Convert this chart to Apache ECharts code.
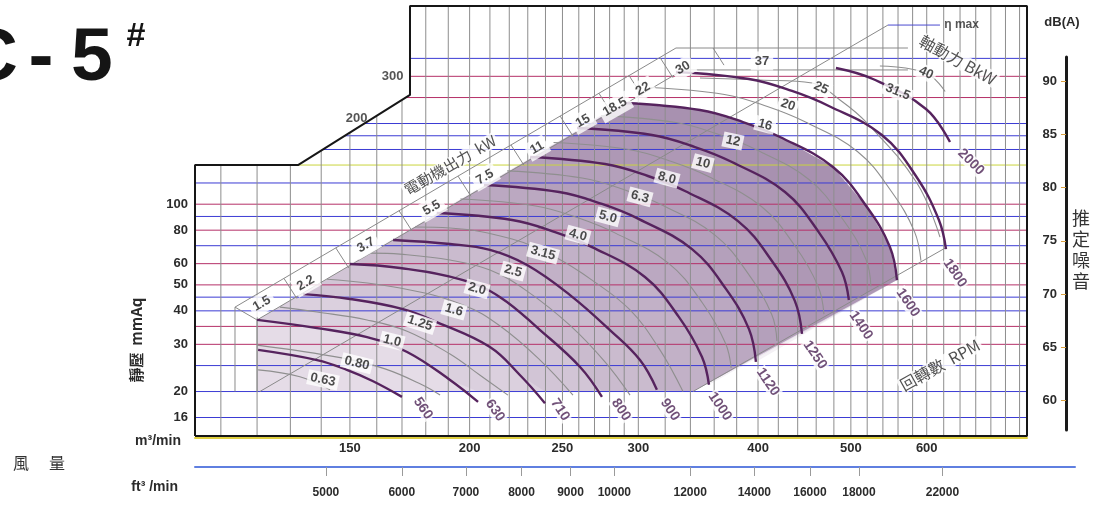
<!DOCTYPE html>
<html><head><meta charset="utf-8">
<script src="https://cdn.jsdelivr.net/npm/echarts@6/dist/echarts.min.js"></script>
<style>html,body{margin:0;padding:0;background:#fff}#c{width:1095px;height:506px}</style>
</head><body><div id="c"></div>
<script>
// ---------- axis ticks ----------
const flowTicks = [150, 200, 250, 300, 400, 500, 600];            // m3/min
const ftTicks = [5000, 6000, 7000, 8000, 9000, 10000, 12000, 14000, 16000, 18000, 22000]; // ft3/min
const pressTicks = [16, 20, 30, 40, 50, 60, 80, 100];             // mmAq
const dbTicks = [60, 65, 70, 75, 80, 85, 90];                     // dB(A)
const hGridP = [16, 20, 25, 30, 35, 40, 45, 50, 60, 70, 80, 90, 100, 120, 140, 160, 180, 200, 250, 300, 350];
const vGridQ = [110,120,130,140,150,160,170,180,190,200,210,220,230,240,250,260,270,280,290,300,320,340,360,380,400,420,440,460,480,500,520,540,560,580,600,625,650,675,700,725,750];

// ---------- RPM curves [flow m3/min, static pressure mmAq] ----------
const rpmNames = ['560','630','710','800','900','1000','1120','1250','1400','1600','1800','2000'];
const rpm560  = [[120.3,28.6],[138.6,26.2],[148.9,24.1],[158.4,21.9],[170.0,19.1]];
const rpm630  = [[120,37.0],[138.6,34.5],[156.3,31.9],[172.1,28.1],[190.8,22.1],[204.1,18.3]];
const rpm710  = [[134.0,46.2],[150,44.3],[170.4,40.6],[184.8,36.3],[210,29.3],[225.8,23.0],[239.7,18.1]];
const rpm800  = [[150,59.8],[169.2,57.8],[196.9,52.1],[215.2,45.0],[236.9,33.9],[260.8,24.7],[274.9,19.1]];
const rpm900  = [[166.4,73.5],[190.8,71.0],[210,67.5],[229.6,59.3],[254.6,45.8],[280.2,33.9],[301.2,26.2],[313.7,20.3]];
const rpm1000 = [[184.8,92.7],[221.5,87.3],[245.6,78.7],[268.4,69.2],[304.8,53.5],[330.8,37.9],[349.6,26.9],[355.5,21.2]];
const rpm1120 = [[207.0,117.9],[248.0,111.0],[274.9,100.2],[300.5,88.0],[341.3,68.0],[370.3,48.3],[391.4,34.2],[398.0,25.8]];
const rpm1250 = [[231.3,150.0],[276.9,141.2],[307.0,127.4],[335.6,112.0],[381.2,86.5],[413.6,61.4],[437.1,43.5],[444.6,32.8]];
const rpm1400 = [[258.9,192.4],[310.0,181.2],[343.8,163.4],[375.7,143.7],[426.8,111.0],[462.8,78.7],[489.4,55.8],[497.6,43.9]];
const rpm1600 = [[290.5,238.6],[347.9,224.6],[385.8,202.6],[421.7,178.1],[478.9,137.6],[519.7,97.6],[549.2,69.2],[558.6,52.1]];
const rpm1800 = [[328.4,311.5],[391.4,293.1],[434.0,264.5],[474.2,232.5],[538.7,181.2],[584.6,127.4],[617.8,87.3],[628.4,68.0]];
const rpm2000 = [[482.4,322.2],[527.2,293.1],[598.9,226.6],[634.5,170.6]];
const rpmCurves = [rpm560, rpm630, rpm710, rpm800, rpm900, rpm1000, rpm1120, rpm1250, rpm1400, rpm1600, rpm1800, rpm2000];

// ---------- thin grey curves (shaft power family) ----------
const grey063  = [[120.3,24.1],[133,22.7],[143,20.3]];
const grey080  = [[120,29.8],[147.1,26.7],[163.2,24.3],[178.4,21.2],[186.3,19.4]];
const grey125  = [[126.8,41.3],[138.6,39.6],[156.3,37.0],[172.1,33.6],[190.8,27.6],[205.1,23.0],[219.3,19.4]];
const grey160  = [[142.0,52.5],[169.2,48.7],[196.9,42.1],[215.2,35.1],[236.9,26.2],[256.4,19.4]];
const grey250  = [[157.7,65.7],[169.2,65.1],[190.8,61.9],[210.0,56.8],[229.6,47.4],[254.6,35.3],[276.9,25.8],[294.1,19.4]];
const grey315  = [[175.4,82.2],[190.8,81.5],[221.5,74.1],[245.6,63.5],[268.4,52.1],[294.1,40.3],[316.0,28.6],[334.0,20.0]];
const grey500  = [[195.6,104.6],[234.4,98.5],[259.9,88.8],[283.9,78.0],[322.5,60.3],[350.0,42.8],[369.9,30.3],[375.0,24.5]];
const grey630  = [[218.9,133.1],[262.1,125.2],[290.5,113.0],[317.5,99.3],[360.7,76.7],[391.4,54.5],[413.6,38.6],[418.6,30.9]];
const grey10   = [[244.7,169.9],[293.1,160.0],[324.9,144.3],[355.1,126.9],[403.3,98.0],[437.6,69.5],[462.2,49.3],[468.7,38.9]];
const grey12   = [[274.3,214.1],[328.4,201.7],[364.1,182.0],[398.0,160.0],[452.1,123.6],[490.6,87.7],[518.5,62.2],[524.7,49.3]];
const grey20   = [[308.1,272.6],[369.0,256.7],[409.1,231.5],[447.2,203.5],[507.9,157.3],[551.2,111.5],[582.6,79.0],[591.7,61.5]];
const grey25   = [[347.9,295.7],[401.9,290.7],[455.4,283.3],[487.1,244.8],[519.7,200.9],[586.0,119.9],[619.4,75.4]];
const grey40   = [[536.1,327.8],[598.9,308.8],[627.1,263.4]];
const greyCurves = [grey063, grey080, grey125, grey160, grey250, grey315, grey500, grey630, grey10, grey12, grey20, grey25, grey40];

// ---------- label texts ----------
const bkwLabels = ['0.63','0.80','1.0','1.25','1.6','2.0','2.5','3.15','4.0','5.0','6.3','8.0','10','12','16','20','25','31.5','40'];
const motorKW = ['1.5','2.2','3.7','5.5','7.5','11','15','18.5','22','30','37'];

// ---------- annotation anchors (data units) ----------
const bkwLabelAt = [[140.6,22.1],[152.5,25.5],[166.0,30.9],[177.5,36.0],[192.6,40.3],[203.6,48.3],[222.0,56.3],[238.6,65.7],[259.5,76.7],[278.9,89.6],[301.2,106.4],[321.4,125.2],[350.4,142.4],[376.6,172.1],[406.8,197.5],[429.9,234.5],[465.3,271.4],[559.8,262.2],[598.9,308.8]];
const bkwLabelAngle = [-12,-14,-14,-18,-16,-15,-15,-15,-15,-15,-15,-15,-15,-12,-15,-20,-25,-22,-25];
const rpmLabelAt = [[178.8,17.3],[212.6,17.0],[248.6,17.1],[287.8,17.1],[323.7,17.1],[365.0,17.6],[409.6,21.7],[458.7,27.4],[512.2,35.3],[573.5,42.9],[642.1,55.3],[667.2,143.7]];
const motorAt = [[121.4,42.6],[134.9,50.8],[155.9,70.4],[182.6,96.8],[207.5,126.3],[235.2,162.0],[262.7,204.3],[283.6,230.5],[303.4,269.1],[334.0,322.2],[403.8,342.4]];

// ---------- structure lines ----------
const Q_MIN = 103.37, Q_MAX = 763.5, P_MIN = 13.65, P_MAX = 548.9;
const frameOutline = [[Q_MIN,P_MIN],[Q_MIN,140],[132.4,140],[173.3,255.6],[173.3,P_MAX],[Q_MAX,P_MAX],[Q_MAX,P_MIN],[Q_MIN,P_MIN]];
const cutout = [[Q_MIN,140],[132.4,140],[173.3,255.6],[173.3,P_MAX],[Q_MIN,P_MAX]];
const bandUpper = [[113.8,41.3],[328.4,382.6],[573.5,382.6]];
const bandLower = [[120,37.0],[334.0,316.9],[573.5,316.9]];
const bandEnds = [[113.8,41.3],[120,37.0]];
const bandTickQ = [128.0,145.0,168.8,194.5,220.9,248.6,272.9,293.4,316.0,359.0];
const etaLine = [[120.8,20],[546.6,466]];
const etaLeader = [[546.6,466],[619.4,466]];
const lowerDiag = [[342.1,20],[629.9,69.2]];
const leftEdgeA = [[113.8,41.3],[113.8,20]];
const leftEdgeB = [[120,37.0],[120,20]];
const shadeBottomCorner = [342.1,20];

// ---------- styles ----------
const BLUE = '#3b3bd4', RED = '#b53068', YEL = '#c9d43c';
const hGridColor = [BLUE,BLUE,BLUE,RED,RED,BLUE,BLUE,RED,RED,BLUE,RED,BLUE,RED,BLUE,YEL,BLUE,BLUE,BLUE,RED,RED,BLUE];
const FONT = '"Liberation Sans", Arial, sans-serif';
const CJK = '"Noto Sans CJK TC", "Noto Sans CJK SC", sans-serif';
const DARK = '#56235e';

// ---------- helpers ----------
function shadePolys() {
  const polys = [];
  const base = [[120,20],[120,37.0]].concat(rpm1600, [shadeBottomCorner]);
  polys.push({pts: base, fill: '#e5dce7'});
  const layerCurves = [rpm630, rpm710, rpm800, rpm900, rpm1000, rpm1120, rpm1250, rpm1400];
  layerCurves.forEach(c => {
    const endQ = c[c.length - 1][0];
    let pts = rpm1600.slice();
    if (shadeBottomCorner[0] > endQ) pts.push(shadeBottomCorner);
    for (let i = c.length - 1; i >= 0; i--) pts.push([c[i][0], Math.max(c[i][1], 20)]);
    polys.push({pts: pts, fill: 'rgba(100,60,110,0.07)'});
  });
  return polys;
}
const polys = shadePolys();

function logInterp(line, q) {
  if (q <= line[0][0]) return line[0][1];
  for (let i = 0; i < line.length - 1; i++) {
    const a = line[i], b = line[i + 1];
    if (q >= a[0] && q <= b[0]) {
      const t = (Math.log(q) - Math.log(a[0])) / (Math.log(b[0]) - Math.log(a[0]));
      return Math.exp(Math.log(a[1]) + t * (Math.log(b[1]) - Math.log(a[1])));
    }
  }
  return line[line.length - 1][1];
}

const anchor = [Q_MIN * 1.01, P_MIN * 1.01];
function lineSeries(data, color, width, z, smooth) {
  return {type: 'line', data: data, xAxisIndex: 0, yAxisIndex: 0, symbol: 'none', smooth: smooth || false,
    clip: false, silent: true, z: z, lineStyle: {color: color, width: width}};
}
function labelSeries(points, texts, opts, z) {
  return {type: 'scatter', xAxisIndex: 0, yAxisIndex: 0, symbolSize: 1, silent: true, z: z,
    itemStyle: {color: 'rgba(0,0,0,0)'},
    data: points.map((p, i) => ({value: p, label: Object.assign({formatter: texts[i]}, opts.per ? opts.per(i) : {})})),
    label: Object.assign({show: true, position: 'inside'}, opts.base)};
}

const series = [];
// shading
series.push({type: 'custom', xAxisIndex: 0, yAxisIndex: 0, z: 1, silent: true, clip: true,
  data: polys.map(() => anchor),
  renderItem: (params, api) => {
    const p = polys[params.dataIndex];
    return {type: 'polygon', shape: {points: p.pts.map(v => api.coord(v))}, style: {fill: p.fill}};
  }});
// grid lines
const gridItems = hGridP.map((p, i) => ({h: true, v: p, c: hGridColor[i]})).concat(vGridQ.map(q => ({h: false, v: q, c: '#8d8d8d'})));
series.push({type: 'custom', xAxisIndex: 0, yAxisIndex: 0, z: 2, silent: true, clip: true,
  data: gridItems.map(() => anchor),
  renderItem: (params, api) => {
    const g = gridItems[params.dataIndex];
    const a = g.h ? api.coord([Q_MIN, g.v]) : api.coord([g.v, P_MIN]);
    const b = g.h ? api.coord([Q_MAX, g.v]) : api.coord([g.v, P_MAX]);
    return {type: 'line', shape: {x1: a[0], y1: a[1], x2: b[0], y2: b[1]}, style: {stroke: g.c, lineWidth: 1}};
  }});
// cutout cover
series.push({type: 'custom', xAxisIndex: 0, yAxisIndex: 0, z: 3, silent: true, clip: false,
  data: [anchor],
  renderItem: (params, api) => ({type: 'polygon', shape: {points: cutout.map(v => api.coord(v))}, style: {fill: '#fff'}})});
// aux lines
[etaLine, lowerDiag, bandUpper, bandLower, bandEnds, leftEdgeA, leftEdgeB].forEach(d => series.push(lineSeries(d, '#8a8a8a', 1, 4)));
series.push(lineSeries(etaLeader, '#4b4bd0', 1, 4));
// band separators
series.push({type: 'custom', xAxisIndex: 0, yAxisIndex: 0, z: 4, silent: true, clip: false,
  data: bandTickQ.map(() => anchor),
  renderItem: (params, api) => {
    const q = bandTickQ[params.dataIndex];
    const pu = api.coord([q, logInterp(bandUpper, q)]);
    const pl = api.coord([q, logInterp(bandLower, q)]);
    const dy = pl[1] - pu[1];
    return {type: 'line', shape: {x1: pu[0], y1: pu[1], x2: pu[0] + dy * 0.5, y2: pu[1] + dy * 0.78}, style: {stroke: '#8a8a8a', lineWidth: 1}};
  }});
// thin grey curves
greyCurves.forEach(c => series.push(lineSeries(c, '#8f8f8f', 1.1, 5, 0.4)));
// rpm curves
rpmCurves.forEach(c => series.push(lineSeries(c, DARK, 2.4, 6, 0.4)));
// frame
series.push(lineSeries(frameOutline, '#161616', 2, 8));

// labels
series.push(labelSeries(bkwLabelAt, bkwLabels, {
  base: {fontFamily: FONT, fontWeight: 'bold', fontSize: 13, color: '#1e1e1e', backgroundColor: '#fff', padding: [1, 3]},
  per: i => ({rotate: bkwLabelAngle[i]})}, 10));
series.push(labelSeries(rpmLabelAt, rpmNames, {
  base: {fontFamily: FONT, fontWeight: 'bold', fontSize: 14, color: '#4e2656', backgroundColor: '#fff', padding: [0, 1], rotate: -56},
  per: i => (i === 11 ? {rotate: -45} : {})}, 10));
series.push(labelSeries(motorAt, motorKW, {
  base: {fontFamily: FONT, fontWeight: 'bold', fontSize: 13, color: '#1e1e1e', backgroundColor: '#fff', padding: [3, 4], rotate: 30},
  per: i => (i === 10 ? {rotate: 0} : {})}, 10));
// titles inside plot
series.push(labelSeries(
  [[190.8,140.0],[646.7,345.3],[619.4,25.1]],
  ['電動機出力  kW', '軸動力 BkW', '回轉數  RPM'],
  {base: {fontFamily: CJK, fontSize: 15, color: '#262626', backgroundColor: '#fff', padding: [0, 2]},
   per: i => ({rotate: [30, -29, 29][i], fontSize: [15, 16, 16][i]})}, 11));
series.push(labelSeries([[622,466]], ['η max'], {base: {position: 'right', distance: 2, fontFamily: FONT, fontSize: 12, fontWeight: 'bold', color: '#2a2a2a'}}, 11));
series.push(labelSeries([[171.2,300],[157,200]], ['300','200'], {base: {position: 'left', distance: 1, fontFamily: FONT, fontSize: 13, fontWeight: 'bold', color: '#2a2a2a'},
  per: i => ({offset: [0, i === 1 ? -5 : 0]})}, 11));

const labelStyle = {fontFamily: FONT, fontWeight: 'bold', fontSize: 13, color: '#2b2b2b'};
const plain = v => String(Math.round(v));

const option = {
  animation: false,
  backgroundColor: '#fff',
  grid: [
    {left: 195, top: 6, width: 832, height: 430},
    {left: 195, top: 466, width: 880, height: 1},
    {left: 1066, top: 57, width: 1, height: 373}
  ],
  xAxis: [
    {type: 'log', logBase: 10, min: Q_MIN, max: Q_MAX, gridIndex: 0, offset: 2,
      axisLine: {show: true, lineStyle: {color: '#e0d040', width: 2}}, axisTick: {show: false}, splitLine: {show: false},
      axisLabel: Object.assign({customValues: flowTicks, margin: 4, formatter: plain}, labelStyle)},
    {type: 'log', logBase: 10, min: 3650.5, max: 30255, gridIndex: 1,
      axisLine: {show: true, lineStyle: {color: '#5f7fe0', width: 2}},
      axisTick: {show: true, customValues: ftTicks, length: 9, lineStyle: {color: '#9a9a9a'}},
      splitLine: {show: false},
      axisLabel: Object.assign({customValues: ftTicks, margin: 20, formatter: plain}, labelStyle, {fontSize: 12})},
    {type: 'value', gridIndex: 2, show: false, min: 0, max: 1}
  ],
  yAxis: [
    {type: 'log', logBase: 10, min: P_MIN, max: P_MAX, gridIndex: 0,
      axisLine: {show: false}, axisTick: {show: false}, splitLine: {show: false},
      axisLabel: Object.assign({customValues: pressTicks, margin: 7, formatter: plain}, labelStyle)},
    {type: 'value', gridIndex: 1, show: false, min: 0, max: 1},
    {type: 'value', gridIndex: 2, position: 'left', min: 57.2, max: 92.3,
      axisLine: {show: true, lineStyle: {color: '#1a1a1a', width: 3}},
      axisTick: {show: true, customValues: dbTicks, length: 5, lineStyle: {color: '#d9a040'}},
      splitLine: {show: false},
      axisLabel: Object.assign({customValues: dbTicks, margin: 9, formatter: plain}, labelStyle)}
  ],
  graphic: [
    {type: 'text', x: 18, y: 59, style: {text: 'C', fontSize: 75, fontWeight: 'bold', fontFamily: FONT, fill: '#151515', align: 'right', verticalAlign: 'middle'}},
    {type: 'text', x: 41, y: 59, style: {text: '-', fontSize: 75, fontWeight: 'bold', fontFamily: FONT, fill: '#151515', align: 'center', verticalAlign: 'middle'}},
    {type: 'text', x: 71, y: 59, style: {text: '5', fontSize: 75, fontWeight: 'bold', fontFamily: FONT, fill: '#151515', align: 'left', verticalAlign: 'middle'}},
    {type: 'text', x: 136, y: 37, style: {text: '#', fontSize: 34, fontWeight: 'bold', fontFamily: FONT, fill: '#151515', align: 'center', verticalAlign: 'middle'}},
    {type: 'text', x: 259, y: 60, style: {text: '單', fontSize: 20, fontFamily: CJK, fill: '#333', align: 'center', verticalAlign: 'middle'}},
    {type: 'text', x: 304, y: 60, style: {text: '吸', fontSize: 20, fontFamily: CJK, fill: '#333', align: 'center', verticalAlign: 'middle'}},
    {type: 'text', x: 349, y: 60, style: {text: '式', fontSize: 20, fontFamily: CJK, fill: '#333', align: 'center', verticalAlign: 'middle'}},
    {type: 'text', x: 1062, y: 22, style: {text: 'dB(A)', fontSize: 13, fontWeight: 'bold', fontFamily: FONT, fill: '#2b2b2b', align: 'center', verticalAlign: 'middle'}},
    {type: 'text', x: 1081, y: 250, style: {text: '推\n定\n噪\n音', fontSize: 18, lineHeight: 21, fontFamily: CJK, fill: '#333', align: 'center', verticalAlign: 'middle'}},
    {type: 'text', x: 21, y: 463, style: {text: '風', fontSize: 16, fontFamily: CJK, fill: '#333', align: 'center', verticalAlign: 'middle'}},
    {type: 'text', x: 57, y: 463, style: {text: '量', fontSize: 16, fontFamily: CJK, fill: '#333', align: 'center', verticalAlign: 'middle'}},
    {type: 'text', x: 181, y: 441, style: {text: 'm³/min', fontSize: 14, fontWeight: 'bold', fontFamily: FONT, fill: '#2b2b2b', align: 'right', verticalAlign: 'middle'}},
    {type: 'text', x: 178, y: 487, style: {text: 'ft³ /min', fontSize: 14, fontWeight: 'bold', fontFamily: FONT, fill: '#2b2b2b', align: 'right', verticalAlign: 'middle'}},
    {type: 'text', x: 136, y: 340, rotation: Math.PI / 2, style: {text: '靜壓  mmAq', fontSize: 15, fontWeight: 'bold', fontFamily: CJK, fill: '#2b2b2b', align: 'center', verticalAlign: 'middle'}}
  ],
  series: series
};
const chart = echarts.init(document.getElementById('c'));
chart.setOption(option);
</script>
</body></html>
